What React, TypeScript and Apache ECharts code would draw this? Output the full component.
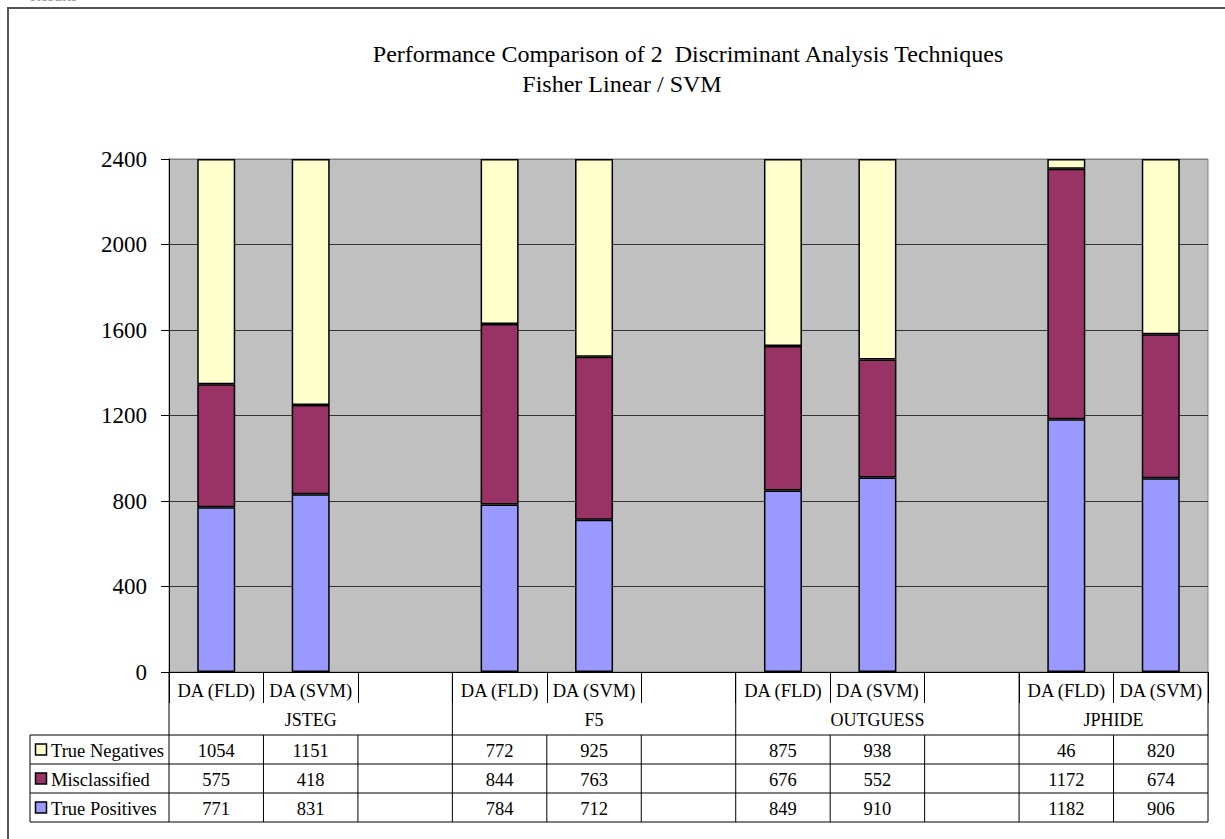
import React, { useEffect, useRef } from "react";
import * as echarts from "echarts";

const groups = ["JSTEG", "F5", "OUTGUESS", "JPHIDE"];
const methods = ["DA (FLD)", "DA (SVM)"];
const seriesNames = ["True Positives", "Misclassified", "True Negatives"];
const truePositives = [771, 831, 784, 712, 849, 910, 1182, 906];
const misclassified = [575, 418, 844, 763, 676, 552, 1172, 674];
const trueNegatives = [1054, 1151, 772, 925, 875, 938, 46, 820];
const seriesColors = ["#9999FF", "#993366", "#FFFFCC"];
const yMin = 0;
const yMax = 2400;
const yInterval = 400;
const titleLine1 = "Performance Comparison of 2  Discriminant Analysis Techniques";
const titleLine2 = "Fisher Linear / SVM";

const FONT = "'Liberation Serif', 'Times New Roman', serif";

export default function App() {
  const ref = useRef<HTMLDivElement>(null);
  useEffect(() => {
    if (!ref.current) return;
    const chart = echarts.init(ref.current, null, { renderer: "svg" });
    const gridLeft = 169;
    const gridRight = 1225 - 1208;
    const gridTop = 159;
    const gridBottom = 839 - 672;
    const plotW = 1208 - gridLeft;
    const axisY = 672;

    // slots: each group has its methods, separated by one empty slot
    const slots: string[] = [];
    const slotIndexOfData: number[] = [];
    const groupStart: number[] = [];
    groups.forEach((g, gi) => {
      groupStart.push(slots.length);
      methods.forEach((m) => {
        slotIndexOfData.push(slots.length);
        slots.push(g + "|" + m);
      });
      if (gi < groups.length - 1) slots.push(g + "|");
    });
    groupStart.push(slots.length);
    const nSlots = slots.length;
    const slotW = plotW / nSlots;

    const toSlots = (arr: number[]) => {
      const out: (number | string)[] = slots.map(() => "-");
      arr.forEach((v, i) => (out[slotIndexOfData[i]] = v));
      return out;
    };
    const valueArrays = [truePositives, misclassified, trueNegatives];

    const tableTop = 735;
    const rowH = 29;
    const tableLeft = 30;
    const tableRight = gridLeft + plotW;
    const rowsTopDown = [2, 1, 0];
    const graphics: any[] = [];
    const line = (x1: number, y1: number, x2: number, y2: number) => ({
      type: "line",
      shape: { x1, y1, x2, y2 },
      style: { stroke: "#000", lineWidth: 1 },
      silent: true,
    });
    graphics.push({
      type: "polyline",
      shape: { points: [[8, 1000], [8, 8], [1400, 8]] },
      style: { fill: "none", stroke: "#555", lineWidth: 2 },
      silent: true,
    });
    graphics.push({
      type: "text",
      x: 30,
      y: 3,
      style: { text: "Results", font: `16px ${FONT}`, fill: "#999", textVerticalAlign: "bottom" },
    });
    graphics.push({
      type: "text",
      x: 688,
      y: 54,
      style: { text: titleLine1, font: `24px ${FONT}`, fill: "#000", textAlign: "center", textVerticalAlign: "middle" },
    });
    graphics.push({
      type: "text",
      x: 622,
      y: 84,
      style: { text: titleLine2, font: `24px ${FONT}`, fill: "#000", textAlign: "center", textVerticalAlign: "middle" },
    });
    // group row
    groups.forEach((g, gi) => {
      const x0 = gridLeft + groupStart[gi] * slotW;
      const x1 = gridLeft + (gi < groups.length - 1 ? groupStart[gi + 1] : nSlots) * slotW;
      graphics.push({
        type: "text",
        x: (x0 + x1) / 2,
        y: 720,
        style: { text: g, font: `18px ${FONT}`, fill: "#000", textAlign: "center", textVerticalAlign: "middle" },
      });
    });
    groupStart.forEach((s) => {
      const x = gridLeft + s * slotW;
      graphics.push(line(x, axisY, x, tableTop));
    });
    // table
    for (let r = 0; r <= 3; r++) {
      const y = tableTop + r * rowH;
      graphics.push(line(tableLeft, y, tableRight, y));
    }
    graphics.push(line(tableLeft, tableTop, tableLeft, tableTop + 3 * rowH));
    for (let i = 0; i <= nSlots; i++) {
      const x = gridLeft + i * slotW;
      graphics.push(line(x, tableTop, x, tableTop + 3 * rowH));
    }
    rowsTopDown.forEach((si, r) => {
      const cy = tableTop + r * rowH + rowH / 2;
      graphics.push({
        type: "rect",
        shape: { x: 35.5, y: cy - 5.5, width: 11, height: 11 },
        style: { fill: seriesColors[si], stroke: "#000", lineWidth: 1.5 },
      });
      graphics.push({
        type: "text",
        x: 51,
        y: cy + 1,
        style: { text: seriesNames[si], font: `18.5px ${FONT}`, fill: "#000", textVerticalAlign: "middle" },
      });
      valueArrays[si].forEach((v, i) => {
        const cx = gridLeft + (slotIndexOfData[i] + 0.5) * slotW;
        graphics.push({
          type: "text",
          x: cx,
          y: cy + 1,
          style: { text: String(v), font: `18.5px ${FONT}`, fill: "#000", textAlign: "center", textVerticalAlign: "middle" },
        });
      });
    });

    const nSplit = (yMax - yMin) / yInterval + 1;
    const splitColors = Array.from({ length: nSplit }, (_, i) => (i === nSplit - 1 ? "#808080" : "#333"));

    chart.setOption({
      animation: false,
      backgroundColor: "#fff",
      grid: {
        left: gridLeft,
        right: gridRight,
        top: gridTop,
        bottom: gridBottom,
        show: true,
        backgroundColor: "#C0C0C0",
        borderColor: "#808080",
        borderWidth: 1,
      },
      xAxis: {
        type: "category",
        data: slots,
        position: "bottom",
        axisLine: { show: true, lineStyle: { color: "#000", width: 1 } },
        axisTick: { show: true, interval: 0, length: 31, lineStyle: { color: "#000" } },
        axisLabel: {
          interval: 0,
          margin: 9,
          fontFamily: FONT,
          fontSize: 18.5,
          color: "#000",
          formatter: (v: string) => v.split("|")[1],
        },
      },
      yAxis: {
        type: "value",
        min: yMin,
        max: yMax,
        interval: yInterval,
        axisLine: { show: true, lineStyle: { color: "#000", width: 1 } },
        axisTick: { show: true, inside: false, length: 8, lineStyle: { color: "#000" } },
        axisLabel: { margin: 22, fontFamily: FONT, fontSize: 23, color: "#000", formatter: (v: number) => String(v) },
        splitLine: { show: true, lineStyle: { color: splitColors, width: 1 } },
      },
      series: valueArrays.map((arr, si) => ({
        name: seriesNames[si],
        type: "bar",
        stack: "total",
        barWidth: 38,
        data: toSlots(arr),
        itemStyle: { color: seriesColors[si], borderColor: "#000", borderWidth: 1.5 },
      })),
      graphic: graphics,
    });
    return () => chart.dispose();
  }, []);
  return (
    <div
      ref={ref}
      style={{ position: "absolute", left: 0, top: 0, width: 1225, height: 839 }}
    />
  );
}
